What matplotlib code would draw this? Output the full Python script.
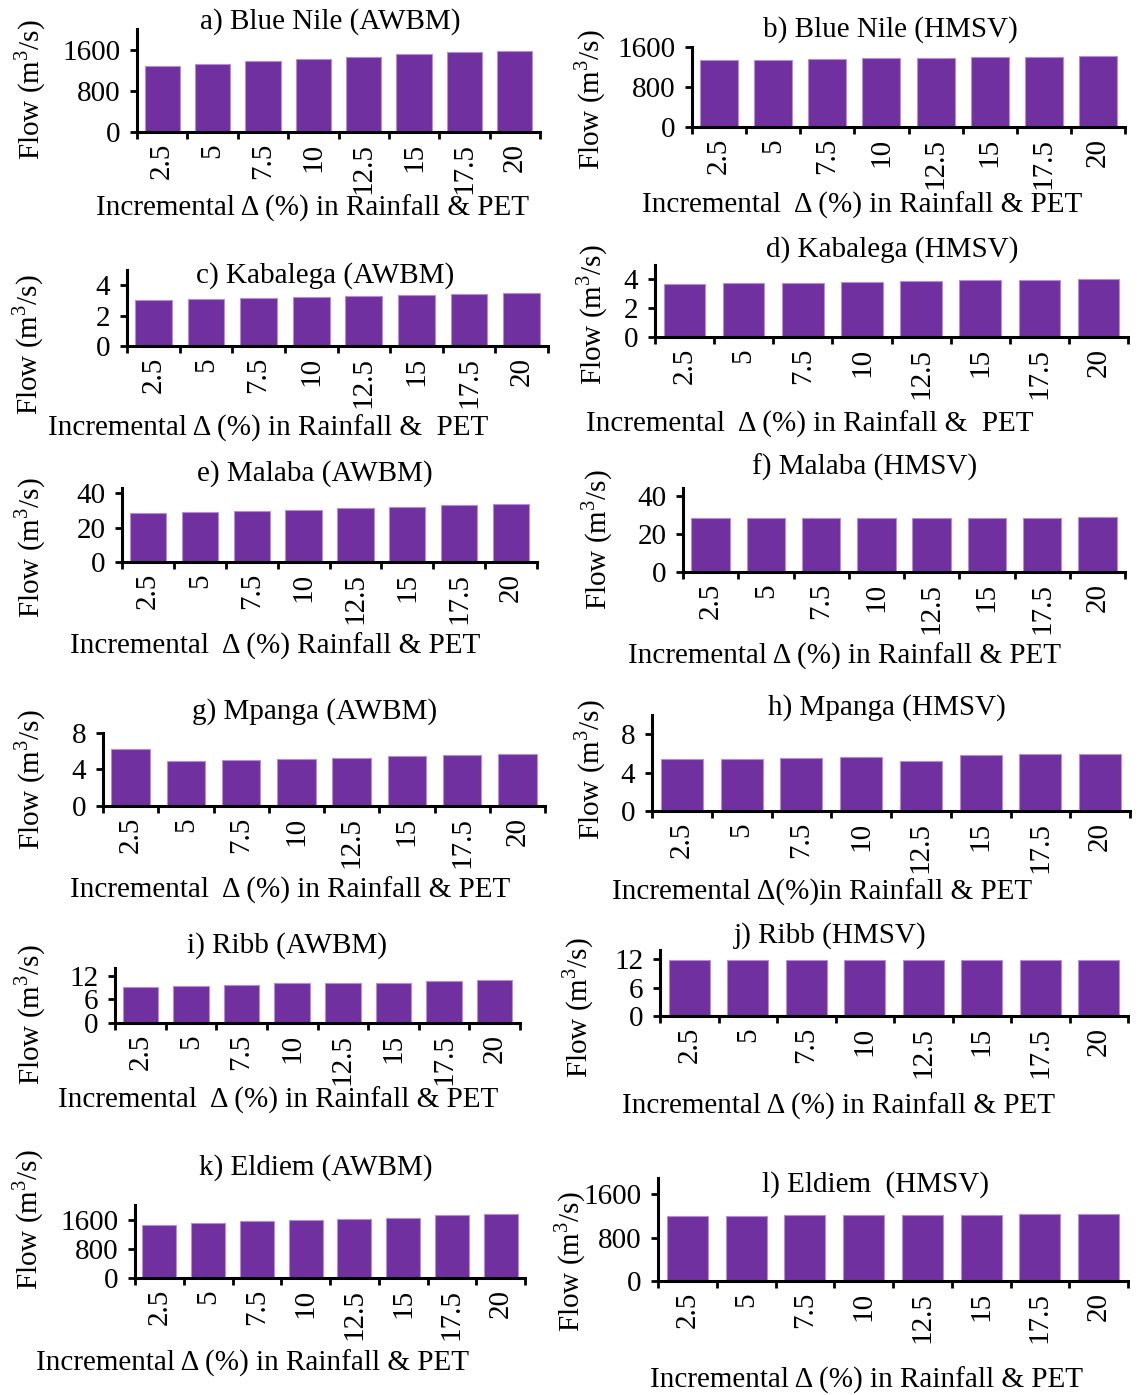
import matplotlib
matplotlib.use("Agg")
import matplotlib.pyplot as plt
import numpy as np

plt.rcParams['font.family'] = ['Liberation Serif', 'DejaVu Serif']
plt.rcParams['mathtext.fontset'] = 'custom'
plt.rcParams['mathtext.rm'] = 'Liberation Serif'

# x categories: incremental change (%) in rainfall & PET
categories = ['2.5', '5', '7.5', '10', '12.5', '15', '17.5', '20']

# flow values (m3/s)
blue_nile_awbm = [1290, 1330, 1385, 1420, 1460, 1505, 1550, 1575]
blue_nile_hmsv = [1340, 1340, 1362, 1383, 1383, 1410, 1410, 1424]
kabalega_awbm = [3.0, 3.07, 3.14, 3.2, 3.26, 3.35, 3.43, 3.49]
kabalega_hmsv = [3.66, 3.73, 3.73, 3.8, 3.87, 3.93, 3.93, 4.0]
malaba_awbm = [28.3, 28.9, 29.7, 30.4, 31.2, 32.2, 33.0, 33.6]
malaba_hmsv = [28.5, 28.5, 28.5, 28.5, 28.5, 28.5, 28.5, 28.9]
mpanga_awbm = [6.25, 4.91, 5.05, 5.2, 5.31, 5.45, 5.56, 5.71]
mpanga_hmsv = [5.41, 5.41, 5.52, 5.62, 5.2, 5.83, 5.97, 5.97]
ribb_awbm = [9.2, 9.5, 9.8, 10.1, 10.1, 10.3, 10.6, 10.9]
ribb_hmsv = [11.9, 11.9, 11.9, 11.9, 11.9, 11.9, 11.9, 11.9]
eldiem_awbm = [1459, 1497, 1562, 1600, 1628, 1656, 1713, 1741]
eldiem_hmsv = [1197, 1191, 1221, 1221, 1221, 1221, 1244, 1244]

titles = ['a) Blue Nile (AWBM)', 'b) Blue Nile (HMSV)',
          'c) Kabalega (AWBM)', 'd) Kabalega (HMSV)',
          'e) Malaba (AWBM)', 'f) Malaba (HMSV)',
          'g) Mpanga (AWBM)', 'h) Mpanga (HMSV)',
          'i) Ribb (AWBM)', 'j) Ribb (HMSV)',
          'k) Eldiem (AWBM)', 'l) Eldiem  (HMSV)']

xlabels = ['Incremental \u0394 (%) in Rainfall & PET',
           'Incremental  \u0394 (%) in Rainfall & PET',
           'Incremental \u0394 (%) in Rainfall &  PET',
           'Incremental  \u0394 (%) in Rainfall &  PET',
           'Incremental  \u0394 (%) Rainfall & PET',
           'Incremental \u0394 (%) in Rainfall & PET',
           'Incremental  \u0394 (%) in Rainfall & PET',
           'Incremental \u0394(%)in Rainfall & PET',
           'Incremental  \u0394 (%) in Rainfall & PET',
           'Incremental \u0394 (%) in Rainfall & PET',
           'Incremental \u0394 (%) in Rainfall & PET',
           'Incremental \u0394 (%) in Rainfall & PET']

series = [blue_nile_awbm, blue_nile_hmsv, kabalega_awbm, kabalega_hmsv,
          malaba_awbm, malaba_hmsv, mpanga_awbm, mpanga_hmsv,
          ribb_awbm, ribb_hmsv, eldiem_awbm, eldiem_hmsv]

yticks = [[0, 800, 1600]] * 2 + [[0, 2, 4]] * 2 + [[0, 20, 40]] * 2 + \
         [[0, 4, 8]] * 2 + [[0, 6, 12]] * 2 + [[0, 800, 1600]] * 2
ymax = [2000, 1600, 5, 5, 43, 44.5, 8, 10, 14, 14, 2000, 1900]

# layout in pixels: spine x, axis end x, top y, zero y
boxes = [(137, 540, 29, 132), (692, 1125, 47, 127),
         (127, 548, 270, 346), (655, 1128, 265, 337),
         (122, 537, 488, 562), (683, 1125, 488, 572),
         (103, 545, 733, 806), (652, 1130, 715, 811),
         (115, 520, 968, 1023), (660, 1128, 950, 1016),
         (135, 525, 1205, 1278), (658, 1128, 1178, 1281)]
title_xy = [(330, 22), (890, 30), (325, 276), (892, 250), (315, 474), (865, 467),
            (315, 712), (887, 708), (287, 946), (830, 936), (316, 1168), (875, 1185)]
xlab_xy = [(312, 208), (862, 205), (268, 428), (810, 424), (275, 646), (845, 656),
           (290, 890), (822, 892), (278, 1100), (838, 1106), (252, 1363), (866, 1380)]
ylab_xy = [(30, 90), (590, 100), (28, 345), (592, 315), (30, 548), (597, 540),
           (30, 780), (590, 770), (30, 1015), (578, 1008), (28, 1220), (570, 1262)]

W, H = 1139, 1395
fig = plt.figure(figsize=(W / 100, H / 100), dpi=100)
fs = 21
x = np.arange(len(categories))

for k in range(12):
    x0, x1, yt, yb = boxes[k]
    ax = fig.add_axes([x0 / W, 1 - yb / H, (x1 - x0) / W, (yb - yt) / H])
    ax.bar(x, series[k], width=0.7, color='#7030A0', edgecolor='#B48FD0', linewidth=0.8)
    ax.set_xlim(-0.5, len(categories) - 0.5)
    ax.set_ylim(0, ymax[k])
    ax.set_yticks(yticks[k])
    ax.set_xticks(x)
    ax.set_xticklabels(categories, rotation=90, fontsize=fs)
    ax.set_xticks(np.arange(len(categories) + 1) - 0.5, minor=True)
    ax.tick_params(axis='x', which='major', length=0, pad=8)
    ax.tick_params(axis='x', which='minor', length=5, width=2, direction='out')
    ax.tick_params(axis='y', length=5, width=2, direction='out', labelsize=fs, pad=7)
    for s in ['top', 'right']:
        ax.spines[s].set_visible(False)
    for s in ['left', 'bottom']:
        ax.spines[s].set_linewidth(2.2)
    fig.text(title_xy[k][0] / W, 1 - title_xy[k][1] / H, titles[k],
             ha='center', va='center', fontsize=fs)
    fig.text(xlab_xy[k][0] / W, 1 - xlab_xy[k][1] / H, xlabels[k],
             ha='center', va='center', fontsize=fs)
    fig.text(ylab_xy[k][0] / W, 1 - ylab_xy[k][1] / H, 'Flow (m$^3$/s)',
             ha='center', va='center', rotation=90, fontsize=fs)

fig.savefig('out.png', dpi=100)
